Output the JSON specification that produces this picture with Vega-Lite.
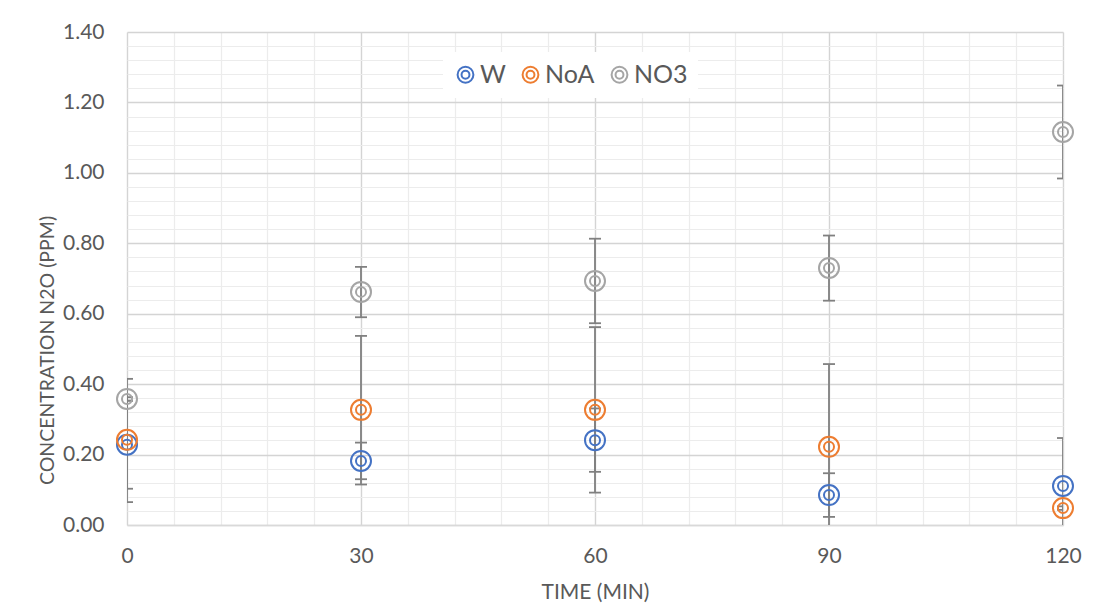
{
  "$schema": "https://vega.github.io/schema/vega-lite/v6.json",
  "width": 936,
  "height": 493,
  "autosize": {"type": "none"},
  "padding": {"left": 127, "top": 32, "right": 32, "bottom": 80},
  "background": "white",
  "config": {
    "view": {"stroke": null},
    "font": "Lato",
    "axis": {
      "labelFont": "Lato",
      "labelFontSize": 21,
      "labelColor": "#595959",
      "titleFont": "Lato",
      "titleFontSize": 21,
      "titleFontWeight": "normal",
      "titleColor": "#595959",
      "ticks": false,
      "labelOverlap": false,
      "labelFlush": false
    },
    "legend": {
      "labelFont": "Lato",
      "labelFontSize": 25,
      "labelColor": "#595959"
    }
  },
  "data": {
    "values": [
      {"t": 0, "series": "W", "mean": 0.228, "lo": 0.103, "hi": 0.353},
      {"t": 0, "series": "NoA", "mean": 0.242, "lo": 0.065, "hi": 0.415},
      {"t": 0, "series": "NO3", "mean": 0.358, "lo": 0.353, "hi": 0.363},
      {"t": 30, "series": "W", "mean": 0.182, "lo": 0.130, "hi": 0.234},
      {"t": 30, "series": "NoA", "mean": 0.327, "lo": 0.115, "hi": 0.537},
      {"t": 30, "series": "NO3", "mean": 0.662, "lo": 0.590, "hi": 0.733},
      {"t": 60, "series": "W", "mean": 0.241, "lo": 0.151, "hi": 0.331},
      {"t": 60, "series": "NoA", "mean": 0.327, "lo": 0.092, "hi": 0.562},
      {"t": 60, "series": "NO3", "mean": 0.693, "lo": 0.573, "hi": 0.813},
      {"t": 90, "series": "W", "mean": 0.085, "lo": 0.023, "hi": 0.147},
      {"t": 90, "series": "NoA", "mean": 0.222, "lo": -0.013, "hi": 0.457},
      {"t": 90, "series": "NO3", "mean": 0.730, "lo": 0.637, "hi": 0.822},
      {"t": 120, "series": "W", "mean": 0.111, "lo": -0.025, "hi": 0.247},
      {"t": 120, "series": "NoA", "mean": 0.048, "lo": 0.043, "hi": 0.053},
      {"t": 120, "series": "NO3", "mean": 1.116, "lo": 0.984, "hi": 1.248}
    ]
  },
  "encoding": {
    "x": {
      "field": "t",
      "type": "quantitative",
      "title": "TIME (MIN)",
      "scale": {"domain": [0, 120], "nice": false},
      "axis": {
        "values": [0, 6, 12, 18, 24, 30, 36, 42, 48, 54, 60, 66, 72, 78, 84, 90, 96, 102, 108, 114, 120],
        "labelExpr": "datum.value % 30 === 0 ? datum.label : ''",
        "labelPadding": 20,
        "titlePadding": 15,
        "domain": true,
        "domainColor": "#d9d9d9",
        "domainWidth": 1.3,
        "grid": true,
        "gridColor": {"condition": {"test": "datum.value % 30 === 0", "value": "#d4d4d4"}, "value": "#ececec"},
        "gridWidth": {"condition": {"test": "datum.value % 30 === 0", "value": 1.4}, "value": 1.2}
      }
    }
  },
  "layer": [
    {
      "mark": {"type": "rule", "color": "#808080", "strokeWidth": 1.8, "clip": true},
      "encoding": {
        "y": {
          "field": "lo",
          "type": "quantitative",
          "title": "CONCENTRATION N2O (PPM)",
          "scale": {"domain": [0, 1.4], "nice": false},
          "axis": {
            "values": [0, 0.04, 0.08, 0.12, 0.16, 0.2, 0.24, 0.28, 0.32, 0.36, 0.4, 0.44, 0.48, 0.52, 0.56, 0.6, 0.64, 0.68, 0.72, 0.76, 0.8, 0.84, 0.88, 0.92, 0.96, 1.0, 1.04, 1.08, 1.12, 1.16, 1.2, 1.24, 1.28, 1.32, 1.36, 1.4],
            "format": ".2f",
            "labelExpr": "abs(datum.value / 0.2 - round(datum.value / 0.2)) < 0.001 ? datum.label : ''",
            "labelPadding": 23,
            "domain": false,
            "grid": true,
            "gridColor": {"condition": {"test": "abs(datum.value / 0.2 - round(datum.value / 0.2)) < 0.001", "value": "#d4d4d4"}, "value": "#ececec"},
            "gridWidth": {"condition": {"test": "abs(datum.value / 0.2 - round(datum.value / 0.2)) < 0.001", "value": 1.4}, "value": 1.2},
            "titleFontSize": 19.5,
            "titleX": -80,
            "titleY": 318,
            "titleAngle": -90,
            "titleBaseline": "middle"
          }
        },
        "y2": {"field": "hi"}
      }
    },
    {
      "mark": {"type": "tick", "orient": "horizontal", "color": "#808080", "size": 12, "thickness": 1.8, "opacity": 1, "clip": true},
      "encoding": {
        "y": {
          "field": "hi",
          "type": "quantitative",
          "title": "CONCENTRATION N2O (PPM)",
          "axis": {
            "values": [0, 0.04, 0.08, 0.12, 0.16, 0.2, 0.24, 0.28, 0.32, 0.36, 0.4, 0.44, 0.48, 0.52, 0.56, 0.6, 0.64, 0.68, 0.72, 0.76, 0.8, 0.84, 0.88, 0.92, 0.96, 1.0, 1.04, 1.08, 1.12, 1.16, 1.2, 1.24, 1.28, 1.32, 1.36, 1.4],
            "format": ".2f",
            "labelExpr": "abs(datum.value / 0.2 - round(datum.value / 0.2)) < 0.001 ? datum.label : ''",
            "labelPadding": 23,
            "domain": false,
            "grid": true,
            "gridColor": {"condition": {"test": "abs(datum.value / 0.2 - round(datum.value / 0.2)) < 0.001", "value": "#d4d4d4"}, "value": "#ececec"},
            "gridWidth": {"condition": {"test": "abs(datum.value / 0.2 - round(datum.value / 0.2)) < 0.001", "value": 1.4}, "value": 1.2},
            "titleFontSize": 19.5,
            "titleX": -80,
            "titleY": 318,
            "titleAngle": -90,
            "titleBaseline": "middle"
          }
        }
      }
    },
    {
      "mark": {"type": "tick", "orient": "horizontal", "color": "#808080", "size": 12, "thickness": 1.8, "opacity": 1, "clip": true},
      "encoding": {
        "y": {
          "field": "lo",
          "type": "quantitative",
          "title": "CONCENTRATION N2O (PPM)",
          "axis": {
            "values": [0, 0.04, 0.08, 0.12, 0.16, 0.2, 0.24, 0.28, 0.32, 0.36, 0.4, 0.44, 0.48, 0.52, 0.56, 0.6, 0.64, 0.68, 0.72, 0.76, 0.8, 0.84, 0.88, 0.92, 0.96, 1.0, 1.04, 1.08, 1.12, 1.16, 1.2, 1.24, 1.28, 1.32, 1.36, 1.4],
            "format": ".2f",
            "labelExpr": "abs(datum.value / 0.2 - round(datum.value / 0.2)) < 0.001 ? datum.label : ''",
            "labelPadding": 23,
            "domain": false,
            "grid": true,
            "gridColor": {"condition": {"test": "abs(datum.value / 0.2 - round(datum.value / 0.2)) < 0.001", "value": "#d4d4d4"}, "value": "#ececec"},
            "gridWidth": {"condition": {"test": "abs(datum.value / 0.2 - round(datum.value / 0.2)) < 0.001", "value": 1.4}, "value": 1.2},
            "titleFontSize": 19.5,
            "titleX": -80,
            "titleY": 318,
            "titleAngle": -90,
            "titleBaseline": "middle"
          }
        }
      }
    },
    {
      "mark": {
        "type": "point",
        "filled": false,
        "opacity": 1,
        "strokeWidth": 2,
        "size": 400,
        "shape": "M -1 0 A 1 1 0 1 0 1 0 A 1 1 0 1 0 -1 0 Z M -0.5 0 A 0.5 0.5 0 1 0 0.5 0 A 0.5 0.5 0 1 0 -0.5 0 Z"
      },
      "encoding": {
        "y": {
          "field": "mean",
          "type": "quantitative",
          "title": "CONCENTRATION N2O (PPM)",
          "axis": {
            "values": [0, 0.04, 0.08, 0.12, 0.16, 0.2, 0.24, 0.28, 0.32, 0.36, 0.4, 0.44, 0.48, 0.52, 0.56, 0.6, 0.64, 0.68, 0.72, 0.76, 0.8, 0.84, 0.88, 0.92, 0.96, 1.0, 1.04, 1.08, 1.12, 1.16, 1.2, 1.24, 1.28, 1.32, 1.36, 1.4],
            "format": ".2f",
            "labelExpr": "abs(datum.value / 0.2 - round(datum.value / 0.2)) < 0.001 ? datum.label : ''",
            "labelPadding": 23,
            "domain": false,
            "grid": true,
            "gridColor": {"condition": {"test": "abs(datum.value / 0.2 - round(datum.value / 0.2)) < 0.001", "value": "#d4d4d4"}, "value": "#ececec"},
            "gridWidth": {"condition": {"test": "abs(datum.value / 0.2 - round(datum.value / 0.2)) < 0.001", "value": 1.4}, "value": 1.2},
            "titleFontSize": 19.5,
            "titleX": -80,
            "titleY": 318,
            "titleAngle": -90,
            "titleBaseline": "middle"
          }
        },
        "stroke": {
          "field": "series",
          "type": "nominal",
          "scale": {"domain": ["W", "NoA", "NO3"], "range": ["#4472C4", "#ED7D31", "#A5A5A5"]},
          "legend": {
            "title": null,
            "orient": "none",
            "direction": "horizontal",
            "legendX": 316,
            "legendY": 20,
            "padding": 10,
            "fillColor": "white",
            "symbolSize": 250,
            "symbolStrokeWidth": 2,
            "labelOffset": 2,
            "columnPadding": 12
          }
        }
      }
    }
  ]
}
